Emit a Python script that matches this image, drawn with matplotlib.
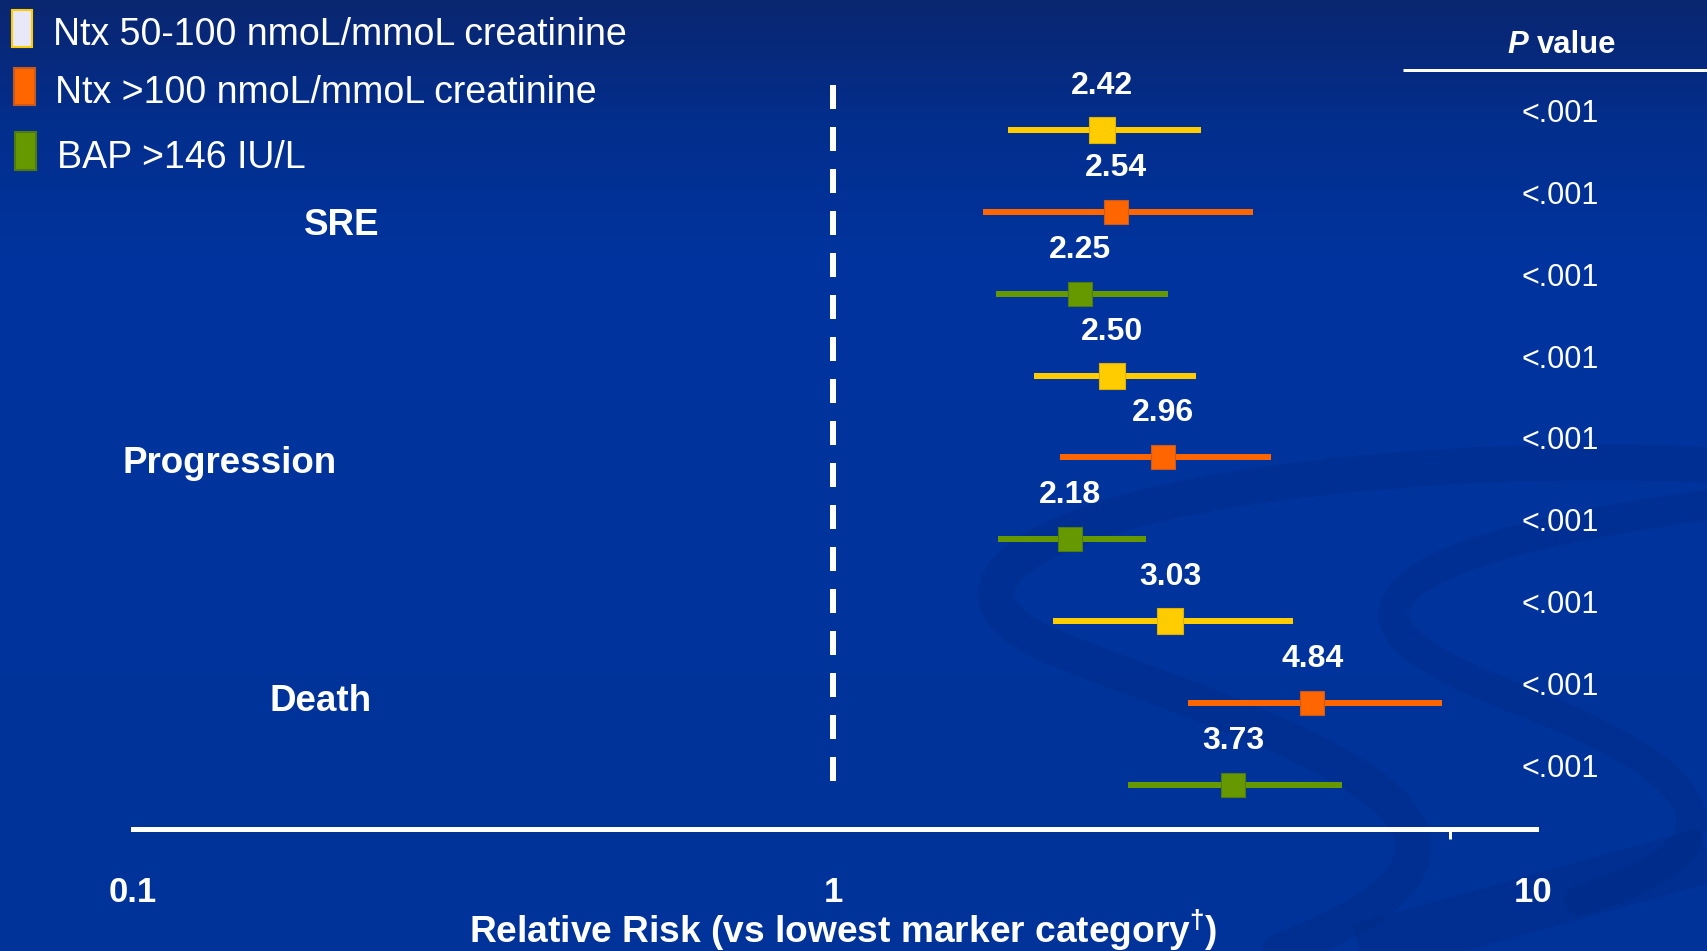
import matplotlib.pyplot as plt
import numpy as np
from matplotlib.path import Path
from matplotlib.patches import PathPatch, Rectangle
from matplotlib.ticker import FixedLocator, NullFormatter

plt.rcParams.update({
    'font.family': ['Liberation Sans', 'DejaVu Sans'],
    'text.color': 'white',
    'mathtext.fontset': 'custom',
    'mathtext.rm': 'Liberation Sans:bold',
    'mathtext.it': 'Liberation Sans:bold:italic',
    'mathtext.bf': 'Liberation Sans:bold',
})

W, H = 1707, 951

# --- data ---
series = ['Ntx 50-100 nmoL/mmoL creatinine', 'Ntx >100 nmoL/mmoL creatinine', 'BAP >146 IU/L']
endpoints = ['SRE', 'Progression', 'Death']
rr = [2.42, 2.54, 2.25, 2.50, 2.96, 2.18, 3.03, 4.84, 3.73]
ci_low = [1.78, 1.64, 1.71, 1.94, 2.11, 1.72, 2.06, 3.21, 2.64]
ci_high = [3.36, 3.98, 3.01, 3.30, 4.22, 2.80, 4.54, 7.42, 5.34]
p_values = ['<.001', '<.001', '<.001', '<.001', '<.001', '<.001', '<.001', '<.001', '<.001']
xticks = [0.1, 1, 10]
xtick_labels = ['0.1', '1', '10']

# --- style ---
series_colors = ['#FFCC00', '#FF6600', '#669900']
edge_colors = ['#E0B000', '#C85A20', '#4F7A10']
swatch_faces = ['#E8E8F8', '#FF6600', '#669900']
marker_px = [27, 24, 24]
PT = 0.72  # points per pixel at dpi 100

fig = plt.figure(figsize=(W / 100, H / 100), dpi=100)

# background gradient + swirls (pixel coords)
bg = fig.add_axes([0, 0, 1, 1], zorder=-10)
yy = np.arange(H)
stops_y = [0, 120, 260, H]
r = np.interp(yy, stops_y, [10, 3, 0, 0])
g = np.interp(yy, stops_y, [38, 46, 52, 51])
b = np.interp(yy, stops_y, [112, 140, 158, 153])
grad = np.stack([r, g, b], axis=1)[:, None, :] / 255.0
bg.imshow(np.repeat(grad, 4, axis=1), extent=[0, W, H, 0], aspect='auto')
swirls = [
    ([(1707, 465), (1550, 455), (1250, 470), (1100, 520),
      (980, 560), (960, 610), (1060, 650),
      (1200, 705), (1380, 760), (1410, 830),
      (1430, 880), (1360, 920), (1280, 951)], 26),
    ([(1707, 505), (1600, 520), (1450, 545), (1405, 590),
      (1370, 630), (1420, 660), (1520, 700),
      (1650, 750), (1720, 800), (1680, 850),
      (1650, 880), (1610, 890), (1580, 900)], 22),
]
for verts, lw in swirls:
    codes = [Path.MOVETO] + [Path.CURVE4] * (len(verts) - 1)
    bg.add_patch(PathPatch(Path(verts, codes), facecolor='none', edgecolor='#002a85',
                           lw=lw, alpha=0.35, capstyle='round'))
bg.plot([1707, 1360], [855, 951], color='#002a85', lw=40, alpha=0.4, solid_capstyle='butt')
bg.set_xlim(0, W)
bg.set_ylim(H, 0)
bg.axis('off')

# main forest plot axes
row_px = 81.9
ax = fig.add_axes([133 / W, (H - 829) / H, (1536 - 133) / W, 829 / H])
ax.set_facecolor('none')
ax.set_xscale('log')
ax.set_xlim(0.1, 10 ** ((1536 - 833) / 700))
ax.set_ylim(8 + 44 / row_px, -130 / row_px)

rows = np.arange(len(rr))
ax.vlines(1, (85 - 130) / row_px, (782 - 130) / row_px, color='white', lw=6 * PT,
          linestyles=(0, (4, 3)), zorder=2)

for s in range(len(series)):
    idx = rows[rows % 3 == s]
    ax.hlines(idx, np.array(ci_low)[idx], np.array(ci_high)[idx],
              color=series_colors[s], lw=6 * PT, zorder=3)
    ax.scatter(np.array(rr)[idx], idx, marker='s', s=(marker_px[s] * PT) ** 2,
               color=series_colors[s], edgecolors=edge_colors[s], linewidths=0.8, zorder=4)

for i, v in enumerate(rr):
    ax.annotate(f'{v:.2f}', (v, i), xytext=(0, 36 * PT), textcoords='offset points',
                ha='center', va='baseline', fontsize=23, fontweight='bold', color='white')
    ax.annotate(p_values[i], xy=(1560 / W, i), xycoords=('figure fraction', 'data'),
                xytext=(0, 8 * PT), textcoords='offset points', ha='center', va='baseline',
                fontsize=22, color='white', annotation_clip=False)

for side in ['left', 'top', 'right']:
    ax.spines[side].set_visible(False)
ax.spines['bottom'].set_color('white')
ax.spines['bottom'].set_linewidth(5 * PT)
ax.set_yticks([])
ax.set_xticks(xticks, xtick_labels)
ax.xaxis.set_minor_locator(FixedLocator([0.1, 1, 7.6]))
ax.xaxis.set_minor_formatter(NullFormatter())
ax.tick_params(axis='x', which='major', length=0, pad=34, labelsize=25, labelcolor='white')
ax.tick_params(axis='x', which='minor', length=10 * PT, width=3 * PT, color='white', direction='out')
for lab in ax.get_xticklabels():
    lab.set_fontweight('bold')
ax.set_xlabel(r'Relative Risk (vs lowest marker category$^{\dagger}$)', fontsize=26.7,
              fontweight='bold', color='white')
ax.xaxis.set_label_coords((843 - 133) / (1536 - 133), (829 - 943) / 829)
ax.xaxis.label.set_va('baseline')

# overlay: legend, group labels, P value header (pixel coords)
ov = fig.add_axes([0, 0, 1, 1], zorder=5)
ov.set_xlim(0, W)
ov.set_ylim(H, 0)
ov.axis('off')

swatches = [(12, 10, 20, 37), (14, 68, 21, 37), (15, 132, 21, 38)]
legend_text_pos = [(53, 45), (55, 103), (57, 168)]
for s, name in enumerate(series):
    x0, y0, w, h = swatches[s]
    ov.add_patch(Rectangle((x0, y0), w, h, facecolor=swatch_faces[s],
                           edgecolor=series_colors[s] if s == 0 else edge_colors[s], lw=1.5))
    ov.text(*legend_text_pos[s], name, fontsize=27, va='baseline', ha='left', color='white')

group_pos = [(342, 235), (230, 473), (321, 711)]
for name, (gx, gy) in zip(endpoints, group_pos):
    ov.text(gx, gy, name, fontsize=26.5, fontweight='bold', ha='center', va='baseline')

ov.text(1507, 53, 'P', fontsize=22.4, fontweight='bold', fontstyle='italic', ha='left', va='baseline')
ov.text(1537, 53, 'value', fontsize=22.4, fontweight='bold', ha='left', va='baseline')
ov.plot([1403, 1707], [70, 70], color='white', lw=3 * PT, solid_capstyle='butt')

fig.savefig('out.png', dpi=100)
